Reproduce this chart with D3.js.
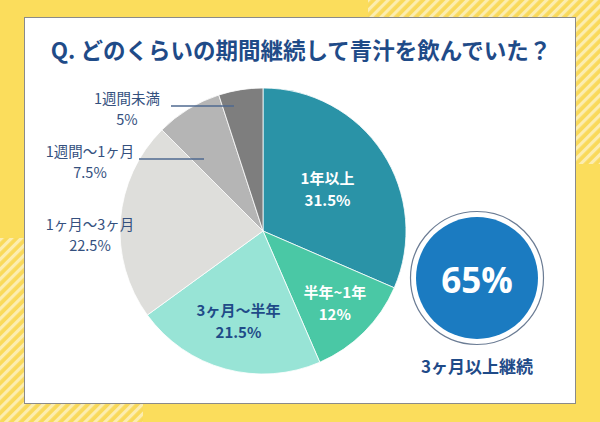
<!DOCTYPE html>
<html><head><meta charset="utf-8">
<script src="https://cdn.jsdelivr.net/npm/d3@7"></script>
<style>html,body{margin:0;padding:0;background:#FBDD5C;}svg{display:block;}</style>
</head><body>
<script>
const title = "Q. どのくらいの期間継続して青汁を飲んでいた？";
const categories = ["1年以上", "半年~1年", "3ヶ月～半年", "1ヶ月～3ヶ月", "1週間～1ヶ月", "1週間未満"];
const values = [31.5, 12, 21.5, 22.5, 7.5, 5];
const valueLabels = ["31.5%", "12%", "21.5%", "22.5%", "7.5%", "5%"];
const sliceColors = ["#2A93A7", "#4AC8A5", "#98E4D6", "#DEDEDB", "#B5B5B5", "#7E7E7E"];
const labelColors = ["#ffffff", "#ffffff", "#1F4B88", "#34507E", "#34507E", "#34507E"];
const insideLabel = [true, true, true, false, false, false];
const summaryValue = "65%";
const summaryText = "3ヶ月以上継続";

const W = 600, H = 422;
const svg = d3.select("body").append("svg").attr("width", W).attr("height", H);
const defs = svg.append("defs");
const pat = defs.append("pattern").attr("id", "stripes").attr("patternUnits", "userSpaceOnUse")
  .attr("width", 7).attr("height", 7).attr("patternTransform", "rotate(45)");
pat.append("rect").attr("width", 7).attr("height", 7).attr("fill", "#F9D95A");
pat.append("rect").attr("width", 3.2).attr("height", 7).attr("fill", "#FCEDB0");

svg.append("rect").attr("width", W).attr("height", H).attr("fill", "#FBDD5C");
svg.append("rect").attr("x", 368).attr("y", 0).attr("width", 232).attr("height", 164).attr("fill", "url(#stripes)");
svg.append("rect").attr("x", 0).attr("y", 238).attr("width", 143).attr("height", 184).attr("fill", "url(#stripes)");

// panel
svg.append("rect").attr("x", 24.5).attr("y", 17.5).attr("width", 551).attr("height", 386)
  .attr("fill", "#ffffff").attr("stroke", "#8A8A8A").attr("stroke-width", 1);

const font = "'Noto Sans CJK JP', 'Noto Sans', sans-serif";
svg.append("text").attr("x", 301).attr("y", 49).attr("text-anchor", "middle").attr("dominant-baseline", "central")
  .attr("font-family", font).attr("font-weight", 700).attr("font-size", 22.5).attr("fill", "#1F4B88").text(title);

const cx = 263, cy = 231, R = 143;
const pie = d3.pie().sort(null).value(d => d);
const arcs = pie(values);
const arc = d3.arc().innerRadius(0).outerRadius(R);
const g = svg.append("g").attr("transform", `translate(${cx},${cy})`);
g.selectAll("path").data(arcs).join("path").attr("d", arc)
  .attr("fill", (d, i) => sliceColors[i]).attr("stroke", "#ffffff").attr("stroke-width", 0.8);

// inside labels
const labelRadius = [0.54, 0.71, 0.65];
arcs.forEach((d, i) => {
  if (!insideLabel[i]) return;
  const lr = R * labelRadius[i];
  const c = d3.arc().innerRadius(lr).outerRadius(lr).centroid(d);
  const t = g.append("text").attr("text-anchor", "middle").attr("font-family", font).attr("font-weight", 700)
    .attr("font-size", 15).attr("fill", labelColors[i]);
  t.append("tspan").attr("x", c[0]).attr("y", c[1] - 11).attr("dominant-baseline", "central").text(categories[i]);
  t.append("tspan").attr("x", c[0]).attr("y", c[1] + 11).attr("dominant-baseline", "central").text(valueLabels[i]);
});

// outside labels (left)
const outsidePos = { 3: [90, 223], 4: [90, 150], 5: [127, 97] };
const leaderLines = { 4: [139, 204, 159], 5: [171, 234, 106] };
Object.keys(outsidePos).forEach(k => {
  const i = +k, p = outsidePos[k];
  const t = svg.append("text").attr("text-anchor", "middle").attr("font-family", font).attr("font-weight", 400)
    .attr("font-size", 14.5).attr("fill", labelColors[i]);
  t.append("tspan").attr("x", p[0]).attr("y", p[1]).attr("dominant-baseline", "central").text(categories[i]);
  t.append("tspan").attr("x", p[0]).attr("y", p[1] + 21).attr("dominant-baseline", "central").text(valueLabels[i]);
  if (leaderLines[i]) {
    const l = leaderLines[i];
    svg.append("line").attr("x1", l[0]).attr("x2", l[1]).attr("y1", l[2]).attr("y2", l[2])
      .attr("stroke", "#4F6A90").attr("stroke-width", 1.3);
  }
});

// summary circle
const sx = 477, sy = 278;
svg.append("circle").attr("cx", sx).attr("cy", sy).attr("r", 66.5).attr("fill", "#ffffff")
  .attr("stroke", "#6B7C94").attr("stroke-width", 1.2);
svg.append("circle").attr("cx", sx).attr("cy", sy).attr("r", 61).attr("fill", "#1B7BC1");
svg.append("text").attr("x", sx).attr("y", sy + 1).attr("text-anchor", "middle").attr("dominant-baseline", "central")
  .attr("font-family", "'Open Sans', 'Noto Sans', sans-serif").attr("font-weight", 700).attr("font-size", 35)
  .attr("fill", "#ffffff").text(summaryValue);
svg.append("text").attr("x", sx).attr("y", 365).attr("text-anchor", "middle").attr("dominant-baseline", "central")
  .attr("font-family", font).attr("font-weight", 700).attr("font-size", 17).attr("fill", "#1F4B88").text(summaryText);
</script>
</body></html>
